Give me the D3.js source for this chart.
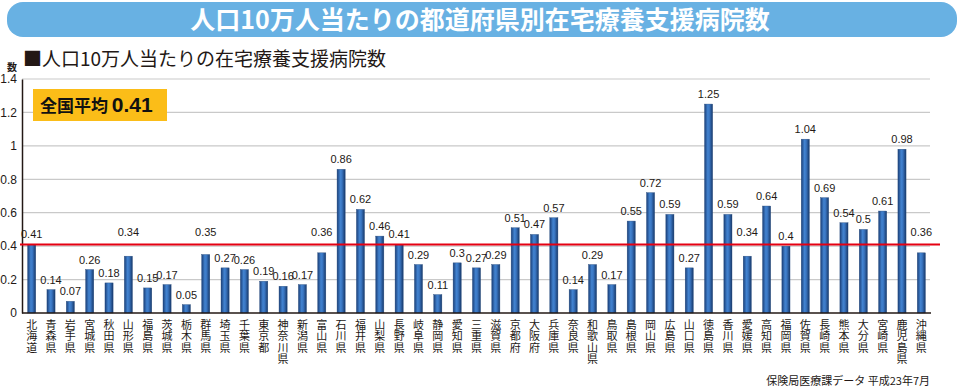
<!DOCTYPE html>
<html>
<head>
<meta charset="utf-8">
<script src="https://cdn.jsdelivr.net/npm/d3@7"></script>
<style>
  body { margin: 0; background: #fff; }
  svg { display: block; font-family: "Noto Sans CJK JP", "Noto Sans", sans-serif; }
</style>
</head>
<body>
<div id="chart"></div>
<script>
// prefectures and values (人口10万人当たり)
const prefectures = [
  "北海道", "青森県", "岩手県", "宮城県", "秋田県", "山形県", "福島県", "茨城県", "栃木県", "群馬県",
  "埼玉県", "千葉県", "東京都", "神奈川県", "新潟県", "富山県", "石川県", "福井県", "山梨県", "長野県",
  "岐阜県", "静岡県", "愛知県", "三重県", "滋賀県", "京都府", "大阪府", "兵庫県", "奈良県", "和歌山県",
  "鳥取県", "島根県", "岡山県", "広島県", "山口県", "徳島県", "香川県", "愛媛県", "高知県", "福岡県",
  "佐賀県", "長崎県", "熊本県", "大分県", "宮崎県", "鹿児島県", "沖縄県"
];
const values = [
  0.41, 0.14, 0.07, 0.26, 0.18, 0.34, 0.15, 0.17, 0.05, 0.35,
  0.27, 0.26, 0.19, 0.16, 0.17, 0.36, 0.86, 0.62, 0.46, 0.41,
  0.29, 0.11, 0.3, 0.27, 0.29, 0.51, 0.47, 0.57, 0.14, 0.29,
  0.17, 0.55, 0.72, 0.59, 0.27, 1.25, 0.59, 0.34, 0.64, 0.4,
  1.04, 0.69, 0.54, 0.5, 0.61, 0.98, 0.36
];
const yTicks = [0, 0.2, 0.4, 0.6, 0.8, 1, 1.2, 1.4];
const nationalAvg = 0.41;

const width = 960, height = 389;
const svg = d3.select("#chart").append("svg")
    .attr("width", width)
    .attr("height", height);

// gradient for cylinder-like bars
const defs = svg.append("defs");
const grad = defs.append("linearGradient").attr("id", "barGrad")
    .attr("x1", "0%").attr("x2", "100%").attr("y1", "0%").attr("y2", "0%");
grad.append("stop").attr("offset", "0%").attr("stop-color", "#1b3f78");
grad.append("stop").attr("offset", "40%").attr("stop-color", "#4283d0");
grad.append("stop").attr("offset", "60%").attr("stop-color", "#3a76c2");
grad.append("stop").attr("offset", "100%").attr("stop-color", "#173869");

// title banner
svg.append("rect")
    .attr("x", 7).attr("y", 2)
    .attr("width", 950).attr("height", 35)
    .attr("rx", 16)
    .attr("fill", "#68b1e3");
svg.append("text")
    .attr("x", 480).attr("y", 29)
    .attr("text-anchor", "middle")
    .attr("fill", "#fff")
    .attr("font-size", 25)
    .attr("font-weight", "bold")
    .text("人口10万人当たりの都道府県別在宅療養支援病院数");

// subtitle
svg.append("text")
    .attr("x", 23).attr("y", 66)
    .attr("fill", "#231815")
    .attr("font-size", 19)
    .text("■人口10万人当たりの在宅療養支援病院数");

const x = d3.scaleBand()
    .domain(prefectures)
    .range([22, 931])
    .paddingInner(0.58)
    .paddingOuter(0.29);

const y = d3.scaleLinear()
    .domain([0, 1.4])
    .range([313, 79]);

// gridlines
svg.append("g")
    .selectAll("line")
    .data(yTicks.filter(d => d > 0))
    .enter().append("line")
    .attr("x1", 22).attr("x2", 930)
    .attr("y1", d => y(d)).attr("y2", d => y(d))
    .attr("stroke", "#c9c9c9")
    .attr("stroke-width", 1.2);

// y axis
const yAxis = svg.append("g")
    .attr("transform", "translate(22,0)")
    .call(d3.axisLeft(y).tickValues(yTicks).tickSize(0).tickPadding(5).tickFormat(d3.format("")));
yAxis.select(".domain").attr("stroke", "#231815").attr("stroke-width", 1.5);
yAxis.selectAll("text")
    .attr("font-size", 12)
    .attr("fill", "#231815")
    .attr("font-family", "'Liberation Sans', Arial, sans-serif");

svg.append("text")
    .attr("x", 12).attr("y", 71)
    .attr("text-anchor", "middle")
    .attr("font-size", 10)
    .attr("font-weight", "bold")
    .attr("fill", "#231815")
    .text("数");

// bars
svg.append("g")
    .selectAll("rect")
    .data(prefectures)
    .enter().append("rect")
    .attr("x", d => x(d))
    .attr("y", (d, i) => y(values[i]))
    .attr("width", x.bandwidth())
    .attr("height", (d, i) => y(0) - y(values[i]))
    .attr("fill", "url(#barGrad)")
    .attr("stroke", "#2a4f80")
    .attr("stroke-width", 0.4);

// x baseline
svg.append("line")
    .attr("x1", 22).attr("x2", 931)
    .attr("y1", y(0)).attr("y2", y(0))
    .attr("stroke", "#231815")
    .attr("stroke-width", 1.5);

// national average line
const avgY = y(nationalAvg);
svg.append("line")
    .attr("x1", 20).attr("x2", 940)
    .attr("y1", avgY).attr("y2", avgY)
    .attr("stroke", "#e60012")
    .attr("stroke-width", 2);

// value labels (lifted above the red line when they would cross it)
function labelY(v) {
  const base = y(v) - 6;
  return (base >= avgY - 2 && base <= avgY + 11) ? avgY - 8 : base;
}
svg.append("g")
    .selectAll("text")
    .data(prefectures)
    .enter().append("text")
    .attr("x", d => x(d) + x.bandwidth() / 2)
    .attr("y", (d, i) => labelY(values[i]))
    .attr("text-anchor", "middle")
    .attr("font-size", 11)
    .attr("fill", "#231815")
    .attr("font-family", "'Liberation Sans', Arial, sans-serif")
    .text((d, i) => values[i]);

// vertical category labels, one character per line
const catLabels = svg.append("g")
    .selectAll("text")
    .data(prefectures)
    .enter().append("text")
    .attr("text-anchor", "middle")
    .attr("font-size", 11)
    .attr("fill", "#231815");
catLabels.each(function(d) {
  const cx = x(d) + x.bandwidth() / 2;
  d3.select(this).selectAll("tspan")
    .data(Array.from(d))
    .enter().append("tspan")
    .attr("x", cx)
    .attr("y", (c, j) => 329 + j * 11.3)
    .text(c => c);
});

// average box
svg.append("rect")
    .attr("x", 33).attr("y", 89)
    .attr("width", 134).attr("height", 32)
    .attr("fill", "#fbbd18");
const avgText = svg.append("text")
    .attr("x", 40).attr("y", 112)
    .attr("fill", "#111")
    .attr("font-weight", "bold");
avgText.append("tspan").attr("font-size", 17).text("全国平均 ");
avgText.append("tspan").attr("font-size", 21)
    .attr("font-family", "'Liberation Sans', Arial, sans-serif")
    .text(nationalAvg);

// source
svg.append("text")
    .attr("x", 930).attr("y", 385)
    .attr("text-anchor", "end")
    .attr("font-size", 11)
    .attr("fill", "#231815")
    .text("保険局医療課データ 平成23年7月");
</script>
</body>
</html>
